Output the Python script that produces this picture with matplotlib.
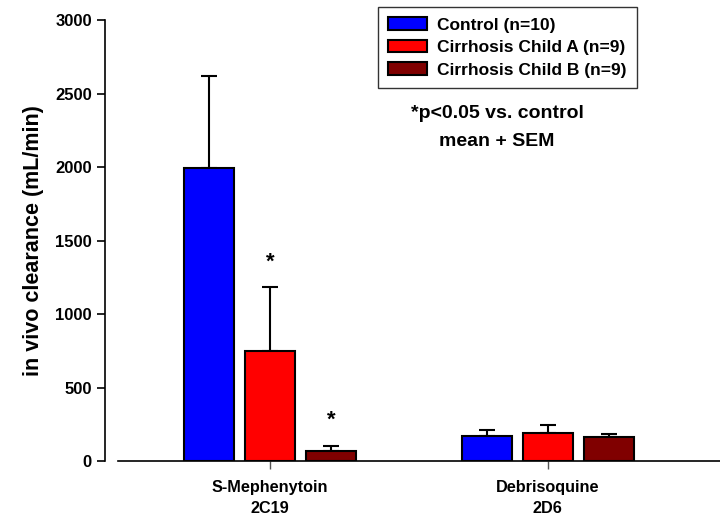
import numpy as np
import matplotlib
matplotlib.use("Agg")
import matplotlib.pyplot as plt

plt.rcParams["font.family"] = ["Liberation Sans", "DejaVu Sans"]
plt.rcParams["font.weight"] = "bold"

drugs = ["S-Mephenytoin\n2C19", "Debrisoquine\n2D6"]
groups = ["Control (n=10)", "Cirrhosis Child A (n=9)", "Cirrhosis Child B (n=9)"]
colors = ["#0000FF", "#FF0000", "#800000"]

means = {
    "Control (n=10)": [1990, 170],
    "Cirrhosis Child A (n=9)": [748, 193],
    "Cirrhosis Child B (n=9)": [66, 166],
}
sems = {
    "Control (n=10)": [630, 38],
    "Cirrhosis Child A (n=9)": [436, 52],
    "Cirrhosis Child B (n=9)": [38, 20],
}
# significance stars (group, drug index)
stars = [("Cirrhosis Child A (n=9)", 0), ("Cirrhosis Child B (n=9)", 0)]

fig = plt.figure(figsize=(7.2, 5.24), dpi=100)
ax = fig.add_axes([0.1458, 0.1202, 0.8542, 0.8416])

x = np.arange(len(drugs))
width = 0.18
step = 0.22
for i, g in enumerate(groups):
    pos = x + (i - 1) * step
    ax.bar(pos, means[g], width, color=colors[i], edgecolor="black",
           linewidth=1.5, label=g, zorder=2)
    ax.errorbar(pos, means[g], yerr=[np.zeros(len(drugs)), sems[g]],
                fmt="none", ecolor="black", elinewidth=1.5, capsize=6,
                capthick=1.5, zorder=1)

for g, d in stars:
    i = groups.index(g)
    top = means[g][d] + sems[g][d]
    ax.text(x[d] + (i - 1) * step, top + 100, "*", ha="center", va="bottom",
            fontsize=16, fontweight="bold")

ax.set_xlim(-0.594, 1.62)
ax.set_ylim(0, 3000)
ax.set_yticks([0, 500, 1000, 1500, 2000, 2500, 3000])
ax.set_xticks(x)
ax.set_xticklabels(drugs, fontsize=11.7, fontweight="bold", linespacing=1.45)
ax.tick_params(axis="y", direction="out", length=6, width=1.2, labelsize=12)
ax.tick_params(axis="x", direction="out", length=6, width=1, color="#555555",
               labelsize=11.7, pad=8)
for lab in ax.get_yticklabels():
    lab.set_fontweight("bold")

ax.spines["top"].set_visible(False)
ax.spines["right"].set_visible(False)
ax.spines["left"].set_linewidth(1.2)
ax.spines["bottom"].set_linewidth(1.2)
ax.spines["bottom"].set_bounds(-0.547, 1.62)

ax.set_ylabel("in vivo clearance (mL/min)", fontsize=15.5, fontweight="bold",
              labelpad=8)

leg = fig.legend(loc="upper left", bbox_to_anchor=(378 / 720, 1 - 7 / 524),
                 frameon=True, fancybox=False, edgecolor="black",
                 prop={"size": 12.5, "weight": "bold"}, handlelength=2.25,
                 handleheight=0.75, borderaxespad=0, labelspacing=0.4,
                 borderpad=0.6, handletextpad=0.55)
leg.get_frame().set_linewidth(1.0)

fig.text(497 / 720, 1 - 113 / 524, "*p<0.05 vs. control", ha="center",
         va="center", fontsize=14, fontweight="bold")
fig.text(497 / 720, 1 - 141 / 524, "mean + SEM", ha="center",
         va="center", fontsize=14, fontweight="bold")

fig.savefig("out.png", dpi=100)
